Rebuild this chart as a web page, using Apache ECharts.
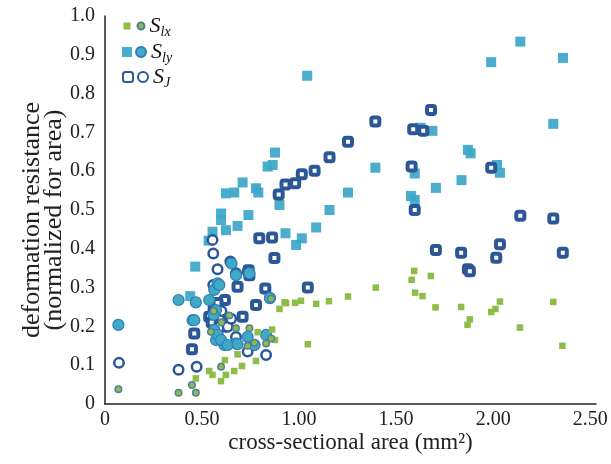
<!DOCTYPE html>
<html><head><meta charset="utf-8">
<script src="https://cdn.jsdelivr.net/npm/echarts@6/dist/echarts.min.js"></script>
<style>html,body{margin:0;padding:0;background:#fff}#c{width:611px;height:464px}</style>
</head><body><div id="c"></div>
<script>
const xTickLabels = ['0','0.50','1.00','1.50','2.00','2.50'];
const yTickLabels = ['0','0.1','0.2','0.3','0.4','0.5','0.6','0.7','0.8','0.9','1.0'];

const slxSquares = [[0.468,0.066],[0.537,0.085],[0.554,0.075],[0.598,0.059],[0.623,0.075],[0.666,0.085],[0.706,0.098],[0.778,0.111],[0.618,0.113],[0.683,0.128],[0.787,0.185],[0.861,0.192],[0.876,0.165],[0.899,0.245],[0.925,0.262],[0.933,0.26],[0.98,0.261],[1.01,0.266],[1.045,0.154],[1.088,0.258],[1.154,0.265],[1.252,0.277],[1.395,0.3],[1.593,0.343],[1.58,0.32],[1.598,0.287],[1.636,0.278],[1.679,0.33],[1.703,0.249],[1.835,0.25],[1.88,0.218],[1.868,0.204],[1.99,0.237],[2.012,0.245],[2.035,0.264],[2.138,0.197],[2.31,0.263],[2.357,0.15]];
const slxCircles = [[0.069,0.038],[0.379,0.029],[0.468,0.029],[0.448,0.049],[0.64,0.228],[0.546,0.186],[0.675,0.195],[0.744,0.195],[0.735,0.15],[0.856,0.169],[0.83,0.156],[0.598,0.096],[0.856,0.271],[0.77,0.158],[0.56,0.24],[0.60,0.21]];
const slySquares = [[0.439,0.278],[0.465,0.354],[0.534,0.421],[0.554,0.444],[0.598,0.491],[0.598,0.474],[0.623,0.448],[0.683,0.459],[0.739,0.487],[0.623,0.543],[0.666,0.545],[0.709,0.571],[0.778,0.556],[0.79,0.545],[0.838,0.612],[0.864,0.616],[0.876,0.648],[0.899,0.513],[0.93,0.44],[1.014,0.427],[0.985,0.41],[1.042,0.846],[1.088,0.455],[1.157,0.5],[1.252,0.545],[1.393,0.609],[1.596,0.594],[1.577,0.536],[1.596,0.526],[1.625,0.712],[1.687,0.704],[1.705,0.557],[1.837,0.577],[1.87,0.655],[1.884,0.646],[2.02,0.616],[2.035,0.596],[1.99,0.881],[2.14,0.934],[2.36,0.892],[2.31,0.722]];
const slyCircles = [[0.069,0.204],[0.379,0.268],[0.468,0.262],[0.451,0.216],[0.537,0.268],[0.563,0.294],[0.58,0.311],[0.572,0.242],[0.563,0.191],[0.589,0.169],[0.615,0.152],[0.572,0.165],[0.675,0.156],[0.735,0.173],[0.77,0.152],[0.83,0.178],[0.85,0.273],[0.675,0.332],[0.652,0.362],[0.744,0.337],[0.589,0.307],[0.58,0.178],[0.46,0.216],[0.598,0.165],[0.632,0.152],[0.683,0.154],[0.56,0.23]];
const sjSquares = [[0.448,0.141],[0.46,0.182],[0.537,0.225],[0.618,0.268],[0.709,0.225],[0.778,0.255],[0.683,0.302],[0.826,0.298],[0.74,0.345],[0.744,0.332],[0.795,0.427],[0.861,0.429],[0.873,0.376],[0.895,0.54],[0.93,0.566],[0.98,0.569],[1.014,0.592],[1.08,0.601],[1.157,0.636],[1.252,0.676],[1.393,0.728],[1.045,0.3],[1.588,0.708],[1.64,0.704],[1.68,0.758],[1.58,0.612],[1.596,0.5],[1.99,0.609],[2.14,0.485],[2.31,0.478],[1.705,0.397],[1.835,0.39],[2.035,0.412],[2.016,0.377],[2.359,0.39],[1.87,0.347],[1.88,0.342],[0.56,0.245],[0.575,0.23],[0.57,0.215],[0.585,0.24],[0.595,0.225],[0.55,0.21],[0.58,0.26],[0.60,0.2]];
const sjCircles = [[0.072,0.106],[0.379,0.088],[0.472,0.096],[0.623,0.199],[0.675,0.173],[0.735,0.135],[0.77,0.152],[0.83,0.126],[0.558,0.307],[0.589,0.199],[0.85,0.273],[0.554,0.423],[0.558,0.388],[0.58,0.347],[0.646,0.367],[0.675,0.337],[0.735,0.341],[0.632,0.199],[0.60,0.24],[0.65,0.22]];

const GREEN = '#8dbd47', LBLUE = '#3fa9c8', DBLUE = '#2b5797';
const serif = '"Liberation Serif", "DejaVu Serif", serif';

const chart = echarts.init(document.getElementById('c'), null, {renderer: 'canvas'});
const subNames = {Slx: ['S','lx'], Sly: ['S','ly'], SJ: ['S','J']};
function legendFmt(name) {
  if (name.endsWith('-sq')) return '';
  const p = subNames[name];
  return '{s|' + p[0] + '}{sub|' + p[1] + '}';
}
const rich = {
  s: {fontSize: 22, fontStyle: 'italic', fontFamily: serif, color: '#111', lineHeight: 24},
  sub: {fontSize: 14, fontStyle: 'italic', fontFamily: serif, color: '#111', lineHeight: 24, padding: [12, 0, 0, 0]}
};
function mkLegend(names, top, size, left, gap) {
  return {
    data: names, orient: 'horizontal', left: left, top: top,
    itemWidth: size, itemHeight: size, itemGap: gap, selectedMode: false,
    formatter: legendFmt, textStyle: {rich: rich, fontSize: 14}
  };
}
chart.setOption({
  animation: false,
  grid: {left: 105, right: 15, top: 16, bottom: 60, containLabel: false},
  legend: [
    mkLegend(['Slx-sq','Slx'], 8, 7, 118.5, 6),
    mkLegend(['Sly-sq','Sly'], 34, 10, 117, 3),
    mkLegend(['SJ-sq','SJ'], 59, 10, 117, 3)
  ],
  xAxis: {
    type: 'value', min: 0, max: 2.53, interval: 0.5,
    splitLine: {show: false}, axisTick: {show: false},
    axisLine: {show: true, lineStyle: {color: '#222', width: 1.5}},
    axisLabel: {fontFamily: serif, fontSize: 20, color: '#222', margin: 6,
      formatter: v => { const i = Math.round(v / 0.5); return Math.abs(v - i * 0.5) < 1e-6 && i < xTickLabels.length ? xTickLabels[i] : ''; }},
    name: 'cross-sectional area (mm²)', nameLocation: 'middle', nameGap: 27, nameMoveOverlap: false,
    nameTextStyle: {fontFamily: serif, fontSize: 23, color: '#222'}
  },
  yAxis: {
    type: 'value', min: 0, max: 1.0, interval: 0.1,
    splitLine: {show: false}, axisTick: {show: false},
    axisLine: {show: true, lineStyle: {color: '#222', width: 1.5}},
    axisLabel: {fontFamily: serif, fontSize: 20, color: '#222', margin: 10,
      formatter: v => yTickLabels[Math.round(v * 10)] || ''},
    name: 'deformation resistance\n(normalized for area)', nameLocation: 'middle', nameGap: 40, nameMoveOverlap: false,
    nameTextStyle: {fontFamily: serif, fontSize: 26, color: '#222', lineHeight: 22, padding: [0, 20, 0, 0]}
  },
  series: [
    {name: 'Sly-sq', type: 'scatter', data: slySquares, symbol: 'rect', symbolSize: 10, itemStyle: {color: LBLUE, opacity: 0.95}},
    {name: 'SJ-sq', type: 'scatter', data: sjSquares, symbol: 'roundRect', symbolSize: 8, itemStyle: {color: '#fff', borderColor: DBLUE, borderWidth: 4, opacity: 1}},
    {name: 'SJ', type: 'scatter', data: sjCircles, symbol: 'circle', symbolSize: 9.5, itemStyle: {color: '#fff', borderColor: DBLUE, borderWidth: 2.5, opacity: 1}},
    {name: 'Sly', type: 'scatter', data: slyCircles, symbol: 'circle', symbolSize: 11, itemStyle: {color: LBLUE, borderColor: '#2f7fb3', borderWidth: 1.2, opacity: 1}},
    {name: 'Slx-sq', type: 'scatter', data: slxSquares, symbol: 'rect', symbolSize: 6.5, itemStyle: {color: GREEN, opacity: 1}},
    {name: 'Slx', type: 'scatter', data: slxCircles, symbol: 'circle', symbolSize: 6.5, itemStyle: {color: GREEN, borderColor: '#4f7fa0', borderWidth: 1.5, opacity: 1}}
  ]
});
</script></body></html>
